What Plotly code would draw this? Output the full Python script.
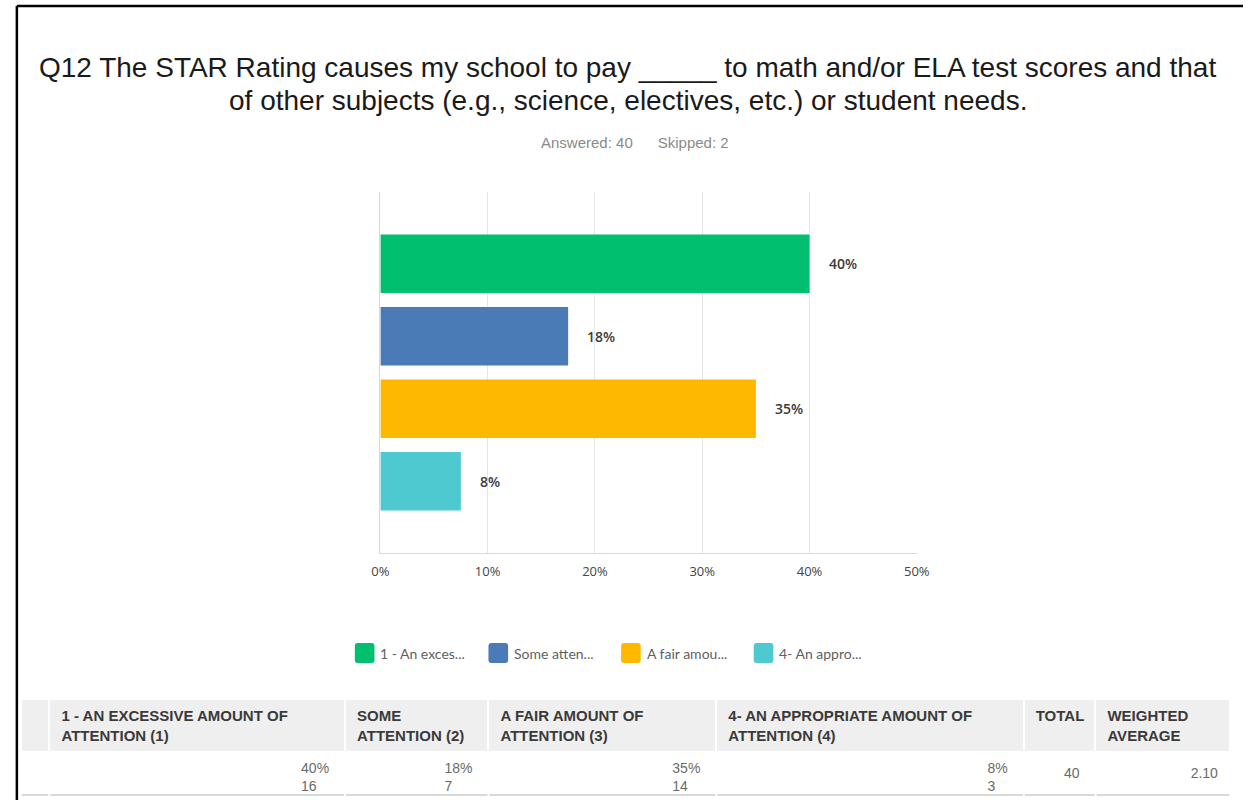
import plotly.graph_objects as go

W, H = 1256, 800

# ---------------- data ----------------
categories = [
    "1 - An excessive amount of attention (1)",
    "Some attention (2)",
    "A fair amount of attention (3)",
    "4- An appropriate amount of attention (4)",
]
legend_labels = ["1 - An exces...", "Some atten...", "A fair amou...", "4- An appro..."]
percents = [40.0, 17.5, 35.0, 7.5]
pct_labels = ["40%", "18%", "35%", "8%"]
counts = [16, 7, 14, 3]
total = 40
weighted_avg = "2.10"
colors = ["#00BF6F", "#4A7BB7", "#FDB900", "#4DC9CF"]
x_ticks = [0, 10, 20, 30, 40, 50]
x_ticktext = ["0%", "10%", "20%", "30%", "40%", "50%"]

table_headers = [
    "",
    "1 - AN EXCESSIVE AMOUNT OF<br>ATTENTION (1)",
    "SOME<br>ATTENTION (2)",
    "A FAIR AMOUNT OF<br>ATTENTION (3)",
    "4- AN APPROPRIATE AMOUNT OF<br>ATTENTION (4)",
    "TOTAL",
    "WEIGHTED<br>AVERAGE",
]

title_lines = [
    "Q12 The STAR Rating causes my school to pay _____ to math and/or ELA test scores and that",
    "of other subjects (e.g., science, electives, etc.) or student needs.",
]
subtitle_text = "Answered: 40\u00a0\u00a0\u00a0\u00a0\u00a0\u00a0Skipped: 2"


def X(px):
    return px / W


def Y(py):
    return 1 - py / H


fig = go.Figure()

fig.add_trace(go.Bar(
    x=percents, y=categories, orientation="h",
    marker=dict(color=colors, line=dict(width=0)),
    showlegend=False, hoverinfo="skip",
))

annotations = []
for c, p, t in zip(categories, percents, pct_labels):
    annotations.append(dict(
        x=p, y=c, xref="x", yref="y", text=t, showarrow=False,
        xanchor="left", xshift=17,
        font=dict(family="Open Sans", size=14, color="#3a3a3a", weight=600),
    ))

# title + subtitle
for ty, line in zip([68, 101], title_lines):
    annotations.append(dict(
        x=X(630), y=Y(ty), xref="paper", yref="paper", text=line, showarrow=False,
        xanchor="center", yanchor="middle",
        font=dict(family="Liberation Sans", size=28, color="#1a1a1a"),
    ))
annotations.append(dict(
    x=X(637), y=Y(143), xref="paper", yref="paper", text=subtitle_text, showarrow=False,
    xanchor="center", yanchor="middle",
    font=dict(family="Liberation Sans", size=15, color="#8a8a8a"),
))

shapes = []
# manual legend
leg_sq_x = [352, 488, 623, 758]
for lx, lab, col in zip(leg_sq_x, legend_labels, colors):
    x0, x1, y0, y1, r = lx, lx + 20, 643, 663, 3
    path = (f"M {X(x0 + r)},{Y(y0)} L {X(x1 - r)},{Y(y0)} Q {X(x1)},{Y(y0)} {X(x1)},{Y(y0 + r)} "
            f"L {X(x1)},{Y(y1 - r)} Q {X(x1)},{Y(y1)} {X(x1 - r)},{Y(y1)} "
            f"L {X(x0 + r)},{Y(y1)} Q {X(x0)},{Y(y1)} {X(x0)},{Y(y1 - r)} "
            f"L {X(x0)},{Y(y0 + r)} Q {X(x0)},{Y(y0)} {X(x0 + r)},{Y(y0)} Z")
    shapes.append(dict(type="path", xref="paper", yref="paper", path=path,
                       fillcolor=col, line=dict(width=0)))
    annotations.append(dict(
        x=X(lx + 24), y=Y(653), xref="paper", yref="paper", text=lab, showarrow=False,
        xanchor="left", yanchor="middle",
        font=dict(family="Lato", size=14, color="#5f5f5f"),
    ))

# table
col_widths = [29, 301, 146, 232, 313, 73, 137]
NB = "\u00a0"
cells = [""] + [f"{p}{NB}{NB}<br>{n}{NB}{NB}" for p, n in zip(pct_labels, counts)] + \
        [f"<br>{total}{NB}{NB}", f"<br>{weighted_avg}{NB}"]
fig.add_trace(go.Table(
    domain=dict(x=[X(12), X(1243)], y=[0, Y(699)]),
    columnwidth=col_widths,
    header=dict(
        values=[f"<b>{NB}{h.replace('<br>', '<br>' + NB)}</b>" if h else "" for h in table_headers],
        fill_color="#efefef", line=dict(color="white", width=2),
        align="left", height=47,
        font=dict(family="Liberation Sans", size=15, color="#3a3a3a"),
    ),
    cells=dict(
        values=[[v] for v in cells],
        fill_color="white", line=dict(color="white", width=2),
        align="right", height=49,
        font=dict(family="Liberation Sans", size=14, color="#6a6a6a"),
    ),
))

# bottom line of table (segments per column)
xs = 12
for w in col_widths:
    shapes.append(dict(type="line", xref="paper", yref="paper",
                       x0=X(xs + 1), x1=X(xs + w - 1), y0=Y(795), y1=Y(795),
                       line=dict(color="#d8d8d8", width=2)))
    xs += w

# black frame (left + top)
shapes.append(dict(type="line", xref="paper", yref="paper", x0=X(8), x1=X(8), y0=Y(6), y1=0,
                   line=dict(color="black", width=2.5)))
shapes.append(dict(type="line", xref="paper", yref="paper", x0=X(8), x1=1, y0=Y(6), y1=Y(6),
                   line=dict(color="black", width=2.5)))

fig.update_layout(
    width=W, height=H, autosize=False,
    margin=dict(l=0, r=0, t=0, b=0, pad=0),
    paper_bgcolor="white", plot_bgcolor="white",
    bargap=0.19,
    xaxis=dict(
        domain=[X(378), X(924)], range=[0, 50], tickvals=x_ticks, ticktext=x_ticktext,
        showgrid=True, gridcolor="#e6e6e6", gridwidth=1, zeroline=False,
        showline=True, linecolor="#d9d9d9", linewidth=1, ticks="",
        ticklabelstandoff=6,
        tickfont=dict(family="Open Sans", size=13, color="#444444"),
        fixedrange=True,
    ),
    yaxis=dict(
        domain=[Y(553), Y(192)], type="category", categoryorder="array", categoryarray=categories,
        range=[3.99, -0.99], showticklabels=False, showgrid=False, zeroline=False,
        showline=True, linecolor="#d9d9d9", linewidth=1, ticks="", fixedrange=True,
    ),
    annotations=annotations,
    shapes=shapes,
    showlegend=False,
)

fig.write_html(
    "out.html",
    config={"displayModeBar": False},
    post_script="document.body.style.margin='0';document.body.style.overflow='hidden';",
)
